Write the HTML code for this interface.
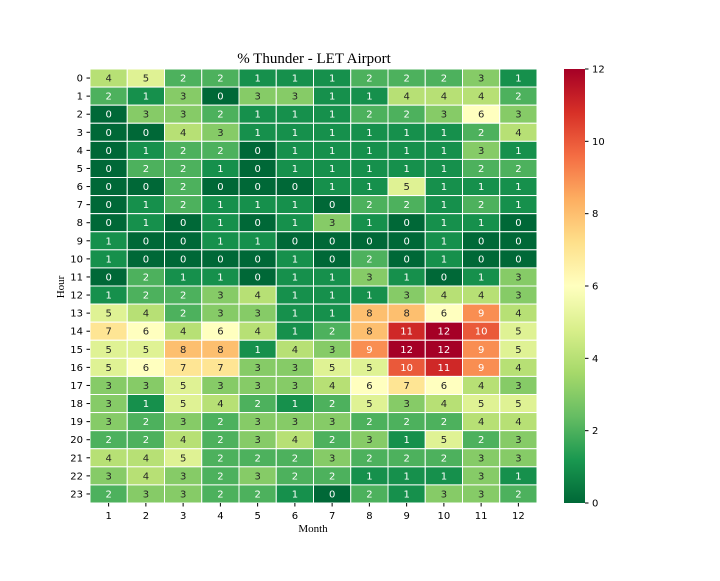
<!DOCTYPE html>
<html><head><meta charset="utf-8"><style>
body{margin:0;background:#fff;}
svg text{font-family:"DejaVu Sans","Liberation Sans",sans-serif;}
</style></head><body>
<svg id="chart" width="720" height="576" xmlns="http://www.w3.org/2000/svg">
<defs>
<linearGradient id="cbar" x1="0" y1="1" x2="0" y2="0">
<stop offset="0" stop-color="#006837"/><stop offset="0.1" stop-color="#1a9850"/><stop offset="0.2" stop-color="#66bd63"/><stop offset="0.3" stop-color="#a6d96a"/><stop offset="0.4" stop-color="#d9ef8b"/><stop offset="0.5" stop-color="#ffffbf"/><stop offset="0.6" stop-color="#fee08b"/><stop offset="0.7" stop-color="#fdae61"/><stop offset="0.8" stop-color="#f46d43"/><stop offset="0.9" stop-color="#d73027"/><stop offset="1" stop-color="#a50026"/>
</linearGradient></defs>
<text x="314" y="63" text-anchor="middle" style="font-family:'Liberation Serif',serif;font-size:15px">% Thunder - LET Airport</text>
<text x="0" y="0" transform="translate(64,287) rotate(-90)" text-anchor="middle" style="font-family:'Liberation Serif',serif;font-size:11px">Hour</text>
<text x="313" y="532" text-anchor="middle" style="font-family:'Liberation Serif',serif;font-size:11px">Month</text>
<g id="cells"></g>
<g id="axes"></g>
<rect x="564" y="69" width="21" height="434" fill="url(#cbar)"/>
<g id="cbticks"></g>
</svg>
<script>
const months=[1,2,3,4,5,6,7,8,9,10,11,12];
const hours=[0,1,2,3,4,5,6,7,8,9,10,11,12,13,14,15,16,17,18,19,20,21,22,23];
const values=[
[4,5,2,2,1,1,1,2,2,2,3,1],
[2,1,3,0,3,3,1,1,4,4,4,2],
[0,3,3,2,1,1,1,2,2,3,6,3],
[0,0,4,3,1,1,1,1,1,1,2,4],
[0,1,2,2,0,1,1,1,1,1,3,1],
[0,2,2,1,0,1,1,1,1,1,2,2],
[0,0,2,0,0,0,1,1,5,1,1,1],
[0,1,2,1,1,1,0,2,2,1,2,1],
[0,1,0,1,0,1,3,1,0,1,1,0],
[1,0,0,1,1,0,0,0,0,1,0,0],
[1,0,0,0,0,1,0,2,0,1,0,0],
[0,2,1,1,0,1,1,3,1,0,1,3],
[1,2,2,3,4,1,1,1,3,4,4,3],
[5,4,2,3,3,1,1,8,8,6,9,4],
[7,6,4,6,4,1,2,8,11,12,10,5],
[5,5,8,8,1,4,3,9,12,12,9,5],
[5,6,7,7,3,3,5,5,10,11,9,4],
[3,3,5,3,3,3,4,6,7,6,4,3],
[3,1,5,4,2,1,2,5,3,4,5,5],
[3,2,3,2,3,3,3,2,2,2,4,4],
[2,2,4,2,3,4,2,3,1,5,2,3],
[4,4,5,2,2,2,3,2,2,2,3,3],
[3,4,3,2,3,2,2,1,1,1,3,1],
[2,3,3,2,2,1,0,2,1,3,3,2]];
const cbTicks=[0,2,4,6,8,10,12];
const vmin=0,vmax=12;
const stops=["#006837","#1a9850","#66bd63","#a6d96a","#d9ef8b","#ffffbf","#fee08b","#fdae61","#f46d43","#d73027","#a50026"];
const X0=90,X1=537,Y0=69,Y1=503;
const cw=(X1-X0)/months.length, ch=(Y1-Y0)/hours.length;
const xs=i=>X0+i*cw, ys=j=>Y0+j*ch;
const cy=v=>Y1-(v-vmin)/(vmax-vmin)*(Y1-Y0);
function hex(h){return [1,3,5].map(i=>parseInt(h.substr(i,2),16));}
function color(v){let t=Math.max(0,Math.min(1,(v-vmin)/(vmax-vmin)))*(stops.length-1);let i=Math.min(Math.floor(t),stops.length-2),f=t-i;
const a=hex(stops[i]),b=hex(stops[i+1]);return a.map((c,k)=>Math.round(c+(b[k]-c)*f));}
function lum(c){const l=c.map(x=>{x/=255;return x<=0.03928?x/12.92:Math.pow((x+0.055)/1.055,2.4)});return 0.2126*l[0]+0.7152*l[1]+0.0722*l[2];}
const NS="http://www.w3.org/2000/svg";
const cells=document.getElementById('cells'),axes=document.getElementById('axes'),cb=document.getElementById('cbticks');
function mk(tag,attrs,parent){const e=document.createElementNS(NS,tag);for(const k in attrs)e.setAttribute(k,attrs[k]);parent.appendChild(e);return e;}
values.forEach((row,j)=>row.forEach((v,i)=>{
 const c=color(v);
 const r=mk('rect',{x:xs(i),y:ys(j),width:cw,height:ch,fill:`rgb(${c})`,stroke:'#fff','stroke-width':1},cells);
 
 
 const t=mk('text',{x:xs(i)+cw/2,y:ys(j)+ch/2+3.5,'text-anchor':'middle','font-size':'10',fill:lum(c)>0.408?'#262626':'#fff'},cells);
 t.textContent=v;
 
 
}));
months.forEach((m,i)=>{
 mk('line',{x1:xs(i)+cw/2,x2:xs(i)+cw/2,y1:Y1,y2:Y1+3.5,stroke:'#000'},axes);
 const t=mk('text',{x:xs(i)+cw/2,y:Y1+16,'text-anchor':'middle','font-size':'10'},axes);
 t.textContent=m;
 
 
});
hours.forEach((h,j)=>{
 mk('line',{x1:X0-3.5,x2:X0,y1:ys(j)+ch/2,y2:ys(j)+ch/2,stroke:'#000'},axes);
 const t=mk('text',{x:X0-7,y:ys(j)+ch/2+3.5,'text-anchor':'end','font-size':'10'},axes);
 t.textContent=h;
 
 
});
cbTicks.forEach(v=>{
 mk('line',{x1:585,x2:588.5,y1:cy(v),y2:cy(v),stroke:'#000'},cb);
 const t=mk('text',{x:592,y:cy(v)+3.5,'font-size':'10'},cb);
 t.textContent=v;
 
 
});
</script>
</body></html>
